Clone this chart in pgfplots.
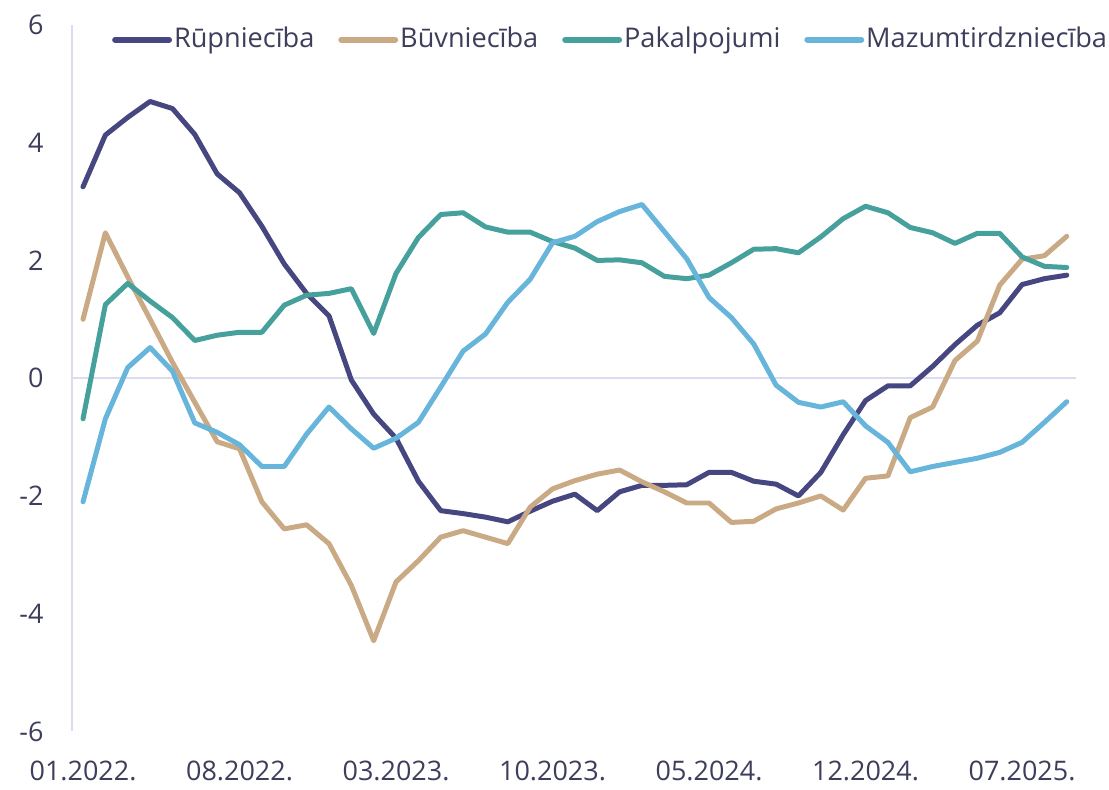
\documentclass[border=0pt]{standalone}
\usepackage{pgfplots}
\pgfplotsset{compat=1.18}
\usepackage{fontspec}
\setmainfont{Open Sans}
\definecolor{cRup}{HTML}{464680}
\definecolor{cBuv}{HTML}{C9AA85}
\definecolor{cPak}{HTML}{46A09C}
\definecolor{cMaz}{HTML}{68B5DC}
\definecolor{cAx}{HTML}{DCDCF0}
\definecolor{cTxt}{HTML}{3D3D5C}
\pgfplotstableread{
i r b p m
0 3.25 1.00 -0.69 -2.10
1 4.13 2.47 1.25 -0.69
2 4.43 1.72 1.61 0.18
3 4.70 1.00 1.31 0.52
4 4.58 0.27 1.03 0.12
5 4.14 -0.41 0.64 -0.76
6 3.47 -1.08 0.73 -0.92
7 3.15 -1.20 0.78 -1.13
8 2.58 -2.10 0.78 -1.50
9 1.94 -2.56 1.24 -1.50
10 1.44 -2.49 1.41 -0.95
11 1.06 -2.81 1.44 -0.49
12 -0.03 -3.52 1.52 -0.86
13 -0.61 -4.46 0.76 -1.19
14 -1.02 -3.46 1.78 -1.02
15 -1.75 -3.10 2.39 -0.75
16 -2.25 -2.70 2.78 -0.15
17 -2.30 -2.59 2.81 0.46
18 -2.36 -2.70 2.57 0.75
19 -2.44 -2.81 2.48 1.29
20 -2.26 -2.19 2.48 1.68
21 -2.09 -1.88 2.32 2.30
22 -1.97 -1.74 2.21 2.41
23 -2.25 -1.63 2.00 2.66
24 -1.93 -1.56 2.01 2.83
25 -1.82 -1.76 1.96 2.95
26 -1.82 -1.93 1.73 2.49
27 -1.81 -2.12 1.69 2.03
28 -1.60 -2.12 1.75 1.37
29 -1.60 -2.45 1.96 1.03
30 -1.75 -2.43 2.19 0.58
31 -1.80 -2.22 2.20 -0.12
32 -2.00 -2.12 2.13 -0.41
33 -1.60 -2.00 2.40 -0.49
34 -0.96 -2.24 2.71 -0.40
35 -0.38 -1.70 2.92 -0.81
36 -0.13 -1.66 2.81 -1.09
37 -0.13 -0.67 2.56 -1.59
38 0.20 -0.49 2.47 -1.50
39 0.57 0.30 2.29 -1.43
40 0.90 0.63 2.46 -1.36
41 1.11 1.58 2.46 -1.26
42 1.59 2.02 2.06 -1.09
43 1.69 2.08 1.90 -0.75
44 1.75 2.41 1.88 -0.40
}\datatable
\begin{document}
\begin{tikzpicture}
\fontsize{13.5}{16}\selectfont
\begin{axis}[
  scale only axis, width=503pt, height=354pt,
  xmin=-0.5, xmax=44.4, ymin=-6, ymax=6,
  axis line style={draw=none},
  clip=false,
  xtick={0,7,14,21,28,35,42},
  xticklabels={01.2022.,08.2022.,03.2023.,10.2023.,05.2024.,12.2024.,07.2025.},
  ytick={-6,-4,-2,0,2,4,6},
  major tick length=0pt,
  tick label style={font=\fontsize{13.5}{16}\selectfont, text=cTxt},
  xticklabel style={yshift=-10pt},
  yticklabel style={xshift=-9.5pt},
  /pgf/number format/assume math mode=true,
  extra y ticks={0}, extra y tick labels={},
  extra y tick style={grid=major, major grid style={cAx, line width=1pt}},
  legend columns=4,
  legend style={draw=none, fill=none, at={(axis description cs:0,1)}, anchor=north west,
    xshift=20pt, yshift=0pt, inner sep=0pt, nodes={inner sep=1pt, text=cTxt},
    font=\fontsize{13.6}{16}\selectfont,
    /tikz/every even column/.append style={column sep=11pt}},
  legend image code/.code={\draw[#1, line width=3pt] (0pt,0pt) -- (27pt,0pt);},
  every axis plot/.append style={line width=2.5pt, line join=round, line cap=round},
]
\draw[cAx, line width=1pt] (axis cs:-0.5,-6) -- (axis cs:-0.5,6);
\addplot[cRup] table[x=i, y=r] {\datatable};
\addlegendentry{Rūpniecība}
\addplot[cBuv] table[x=i, y=b] {\datatable};
\addlegendentry{Būvniecība}
\addplot[cPak] table[x=i, y=p] {\datatable};
\addlegendentry{Pakalpojumi}
\addplot[cMaz] table[x=i, y=m] {\datatable};
\addlegendentry{Mazumtirdzniecība}
\end{axis}
\path (-36pt,-27.5pt) rectangle (518.5pt,366.5pt);
\end{tikzpicture}
\end{document}
